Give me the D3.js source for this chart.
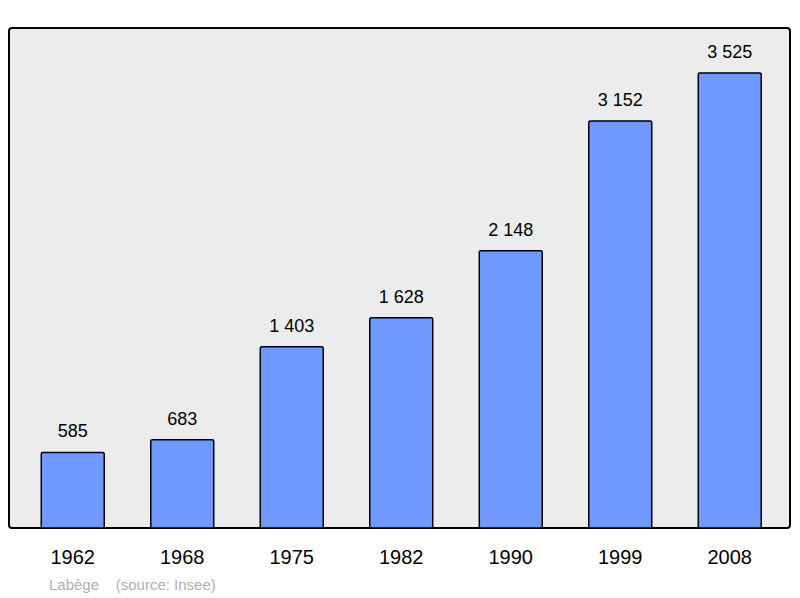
<!DOCTYPE html>
<html><head><meta charset="utf-8">
<script src="https://cdn.jsdelivr.net/npm/d3@7"></script>
<style>body{margin:0;background:#fff}</style></head>
<body><svg id="c" width="800" height="598"></svg>
<script>
const years = ["1962","1968","1975","1982","1990","1999","2008"];
const population = [585,683,1403,1628,2148,3152,3525];
const sourceText = "Labège    (source: Insee)";

const svg = d3.select("#c");
const x = d3.scaleBand().domain(years).range([18,784.5]).paddingInner(0.425).paddingOuter(0.2125);
const y = d3.scaleLinear().domain([0,3873]).range([528,28]);
const fmt = v => d3.format(",")(v).replace(/,/g," ");

svg.append("rect").attr("x",9).attr("y",28).attr("width",781).attr("height",500)
  .attr("rx",3).attr("fill","#ececec").attr("stroke","#000").attr("stroke-width",2);

svg.selectAll(".bar").data(population).join("rect")
  .attr("x",(d,i)=>x(years[i])).attr("y",d=>y(d))
  .attr("width",x.bandwidth()).attr("height",d=>y(0)-y(d))
  .attr("fill","#6f99ff").attr("stroke","#000").attr("stroke-width",1.5).attr("rx",1.5);

svg.selectAll(".val").data(population).join("text")
  .attr("x",(d,i)=>x(years[i])+x.bandwidth()/2).attr("y",d=>y(d)-15)
  .attr("text-anchor","middle").attr("font-family","Liberation Sans, Arial, sans-serif")
  .attr("font-size",18).text(d=>fmt(d));

svg.selectAll(".yr").data(years).join("text")
  .attr("x",d=>x(d)+x.bandwidth()/2).attr("y",564)
  .attr("text-anchor","middle").attr("font-family","Liberation Sans, Arial, sans-serif")
  .attr("font-size",20).text(d=>d);

svg.append("text").attr("x",49).attr("y",590).attr("font-family","Liberation Sans, Arial, sans-serif")
  .attr("font-size",15).attr("fill","#b0b0b0").attr("xml:space","preserve").style("white-space","pre").text(sourceText);
</script></body></html>
